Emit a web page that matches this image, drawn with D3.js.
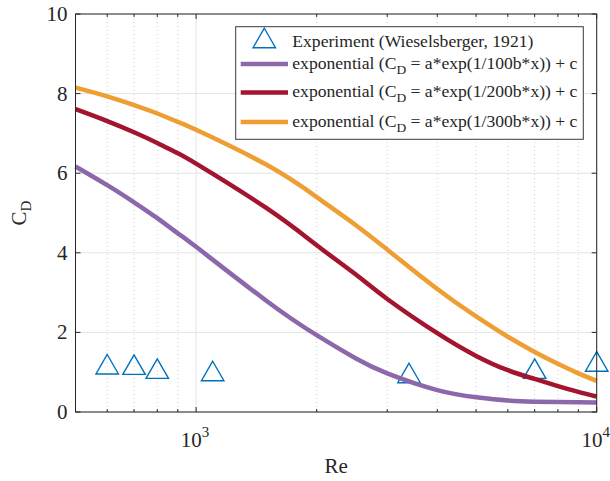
<!DOCTYPE html>
<html>
<head>
<meta charset="utf-8">
<script src="https://cdn.jsdelivr.net/npm/d3@7"></script>
<style>
  html, body { margin: 0; padding: 0; background: #fff; }
  svg { display: block; }
  text { font-family: "Liberation Serif", "DejaVu Serif", serif; fill: #262626; }
</style>
</head>
<body>
<svg id="chart" width="610" height="481"></svg>
<script>
// values
const reSamples = [500, 600, 700, 800, 900, 1000, 1500, 2000, 2500, 3000, 4000, 5000, 6000, 7000, 8000, 9000, 10000];
const cdFit100 = [6.17, 5.70, 5.27, 4.87, 4.49, 4.15, 2.79, 1.93, 1.35, 0.97, 0.55, 0.37, 0.29, 0.26, 0.25, 0.245, 0.24];
const cdFit200 = [7.61, 7.31, 7.03, 6.76, 6.50, 6.24, 5.12, 4.19, 3.46, 2.84, 1.98, 1.41, 1.05, 0.83, 0.65, 0.505, 0.39];
const cdFit300 = [8.15, 7.93, 7.71, 7.50, 7.29, 7.09, 6.21, 5.40, 4.70, 4.08, 3.09, 2.40, 1.89, 1.51, 1.21, 0.97, 0.78];

const expRe = [600, 700, 800, 1100, 3400, 7000, 10000];
const expCd = [1.20, 1.19, 1.09, 1.03, 0.98, 1.09, 1.27];

const yTicks = [0, 2, 4, 6, 8, 10];
const xMajorTicks = [1000, 10000];
const xMinorTicks = [600, 700, 800, 900, 2000, 3000, 4000, 5000, 6000, 7000, 8000, 9000];

const fitLabels = ['1/100b*x', '1/200b*x', '1/300b*x'];
const fitColors = ['#8c68ab', '#a3142f', '#ee9e33'];
const fitSeries = [cdFit100, cdFit200, cdFit300];

const axisColor = '#262626';
const markerColor = '#0072bd';

const svg = d3.select('#chart');
const L = 75.5, R = 596.7, T = 14, B = 412;

const x = d3.scaleLog().domain([500, 10000]).range([L, R]);
const y = d3.scaleLinear().domain([0, 10]).range([B, T]);

// grid
const grid = svg.append('g');
grid.selectAll('line.ygrid').data(yTicks).enter().append('line')
  .attr('x1', L).attr('x2', R)
  .attr('y1', d => y(d)).attr('y2', d => y(d))
  .attr('stroke', '#e3e3e3').attr('stroke-width', 1);
grid.selectAll('line.xminor').data(xMinorTicks).enter().append('line')
  .attr('x1', d => x(d)).attr('x2', d => x(d))
  .attr('y1', T).attr('y2', B)
  .attr('stroke', '#cfcfcf').attr('stroke-width', 1)
  .attr('stroke-dasharray', '1,3');
grid.selectAll('line.xmajor').data(xMajorTicks).enter().append('line')
  .attr('x1', d => x(d)).attr('x2', d => x(d))
  .attr('y1', T).attr('y2', B)
  .attr('stroke', '#e3e3e3').attr('stroke-width', 1);

// experiment markers
function triPath(cx, cy, w, h) {
  return `M${cx},${cy - h / 2}L${cx + w / 2},${cy + h / 2}L${cx - w / 2},${cy + h / 2}Z`;
}
svg.append('g').selectAll('path').data(expRe).enter().append('path')
  .attr('d', (d, i) => triPath(x(d), y(expCd[i]), 22.5, 19.5))
  .attr('fill', 'none')
  .attr('stroke', markerColor)
  .attr('stroke-width', 1.4);

// fitted curves
const line = d3.line()
  .x((d, i) => x(reSamples[i]))
  .y(d => y(d))
  .curve(d3.curveNatural);

svg.append('g').selectAll('path').data(fitSeries).enter().append('path')
  .attr('d', d => line(d))
  .attr('fill', 'none')
  .attr('stroke', (d, i) => fitColors[i])
  .attr('stroke-width', 4.5)
  .attr('stroke-linejoin', 'round');

// axes box
svg.append('rect')
  .attr('x', L).attr('y', T)
  .attr('width', R - L).attr('height', B - T)
  .attr('fill', 'none').attr('stroke', axisColor).attr('stroke-width', 1);

// ticks (inward, on all four sides)
const ticks = svg.append('g').attr('stroke', axisColor).attr('stroke-width', 1);
yTicks.forEach(t => {
  ticks.append('line').attr('x1', L).attr('x2', L + 5).attr('y1', y(t)).attr('y2', y(t));
  ticks.append('line').attr('x1', R).attr('x2', R - 5).attr('y1', y(t)).attr('y2', y(t));
});
xMajorTicks.forEach(t => {
  ticks.append('line').attr('x1', x(t)).attr('x2', x(t)).attr('y1', B).attr('y2', B - 5);
  ticks.append('line').attr('x1', x(t)).attr('x2', x(t)).attr('y1', T).attr('y2', T + 5);
});
xMinorTicks.forEach(t => {
  ticks.append('line').attr('x1', x(t)).attr('x2', x(t)).attr('y1', B).attr('y2', B - 3);
  ticks.append('line').attr('x1', x(t)).attr('x2', x(t)).attr('y1', T).attr('y2', T + 3);
});

// tick labels
svg.append('g').selectAll('text').data(yTicks).enter().append('text')
  .attr('x', L - 8)
  .attr('y', d => y(d) + 7)
  .attr('text-anchor', 'end')
  .attr('font-size', 21)
  .text(d => d);

const xl = svg.append('g').selectAll('text').data(xMajorTicks).enter().append('text')
  .attr('x', d => x(d) - 1)
  .attr('y', 446.5)
  .attr('text-anchor', 'middle')
  .attr('font-size', 21);
xl.append('tspan').text('10');
xl.append('tspan').attr('dy', -10).attr('font-size', 15).text(d => Math.round(Math.log10(d)));

// axis titles
svg.append('text')
  .attr('x', (L + R) / 2).attr('y', 473)
  .attr('text-anchor', 'middle')
  .attr('font-size', 21)
  .text('Re');

const yl = svg.append('text')
  .attr('transform', `translate(26,${(T + B) / 2}) rotate(-90)`)
  .attr('text-anchor', 'middle')
  .attr('font-size', 21);
yl.append('tspan').text('C');
yl.append('tspan').attr('dy', 5).attr('font-size', 15).text('D');

// legend
const lg = svg.append('g');
lg.append('rect')
  .attr('x', 235.7).attr('y', 26.7)
  .attr('width', 347.6).attr('height', 112.6)
  .attr('fill', '#fff').attr('stroke', '#3a3a3a').attr('stroke-width', 1);

lg.append('path')
  .attr('d', triPath(264.3, 38, 22.5, 19.5))
  .attr('fill', 'none').attr('stroke', markerColor).attr('stroke-width', 1.4);
lg.append('text')
  .attr('x', 292.3).attr('y', 46.5)
  .attr('font-size', 17.6)
  .text('Experiment (Wieselsberger, 1921)');

const rowY = [64, 92.5, 122];
fitLabels.forEach((lab, i) => {
  lg.append('line')
    .attr('x1', 240.7).attr('x2', 288)
    .attr('y1', rowY[i]).attr('y2', rowY[i])
    .attr('stroke', fitColors[i]).attr('stroke-width', 4.5);
  const t = lg.append('text')
    .attr('x', 292.3).attr('y', rowY[i] + 4.5)
    .attr('font-size', 17.6);
  t.append('tspan').text('exponential (C');
  t.append('tspan').attr('dy', 5).attr('font-size', 13.5).text('D');
  t.append('tspan').attr('dy', -5).text(` = a*exp(${lab})) + c`);
});
</script>
</body>
</html>
